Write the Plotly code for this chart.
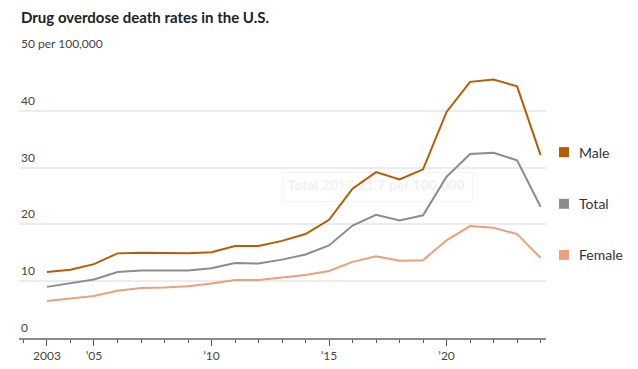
import plotly.graph_objects as go

years = list(range(2003, 2025))
male = [11.6, 12.0, 13.0, 14.9, 15.0, 15.0, 14.9, 15.1, 16.2, 16.2, 17.1, 18.3, 20.8, 26.3, 29.2, 27.9, 29.7, 39.8, 45.1, 45.5, 44.3, 32.2]
total = [9.0, 9.6, 10.3, 11.6, 11.9, 11.9, 11.9, 12.3, 13.2, 13.1, 13.8, 14.7, 16.3, 19.8, 21.7, 20.7, 21.6, 28.4, 32.4, 32.6, 31.3, 23.1]
female = [6.5, 7.0, 7.4, 8.3, 8.8, 8.9, 9.1, 9.6, 10.2, 10.2, 10.6, 11.1, 11.8, 13.4, 14.4, 13.6, 13.7, 17.2, 19.7, 19.4, 18.3, 14.1]

series_names = ["Male", "Total", "Female"]
series_vals = [male, total, female]
colors = ["#b55d00", "#8c8c8c", "#eba07b"]

tick_years = [2003, 2005, 2010, 2015, 2020]
tick_labels = ["2003", "\u201905", "\u201910", "\u201915", "\u201920"]
y_ticks = [0, 10, 20, 30, 40, 50]
y_labels = ["0", "10", "20", "30", "40", "50 per 100,000"]

FONT = "Lato, Roboto, sans-serif"

fig = go.Figure()

# faint tooltip remnant, drawn beneath the lines
tip_year = 2017
tip_val = total[years.index(tip_year)]
fig.add_trace(go.Scatter(x=[tip_year], y=[tip_val + 4.9], mode="text",
                         text=["<b>Total</b> 2017 <b>21.7 per 100,000</b>"],
                         textfont=dict(family=FONT, size=14, color="#efefef"),
                         hoverinfo="skip", showlegend=False))

for name, vals, c in zip(series_names, series_vals, colors):
    fig.add_trace(go.Scatter(x=years, y=vals, mode="lines", name=name,
                             line=dict(color=c, width=2), hoverinfo="skip"))

fig.add_shape(type="rect", xref="x", yref="y", layer="below",
              x0=tip_year - 3.95, x1=tip_year + 4.1, y0=tip_val + 2.3, y1=tip_val + 7.4,
              line=dict(color="#f3f3f3", width=1), fillcolor="rgba(255,255,255,0)")

annotations = []
annotations.append(dict(x=0, xref="paper", y=1, yref="paper", yshift=37,
                        text="<b>Drug overdose death rates in the U.S.</b>",
                        showarrow=False, xanchor="left", yanchor="middle",
                        font=dict(family=FONT, size=15, color="#222")))
for v, lab in zip(y_ticks, y_labels):
    annotations.append(dict(x=0, xref="paper", y=v, yref="y", text=lab,
                            showarrow=False, xanchor="left", yanchor="bottom",
                            yshift=1, font=dict(family=FONT, size=12, color="#444")))

# end-of-line legend: square swatch + label
for name, vals, c in zip(series_names, series_vals, colors):
    fig.add_shape(type="rect", xref="paper", yref="y",
                  xsizemode="pixel", xanchor=1, x0=13, x1=23,
                  ysizemode="pixel", yanchor=vals[-1], y0=-2, y1=8,
                  line=dict(width=0), fillcolor=c)
    annotations.append(dict(x=1, xref="paper", xshift=31, y=vals[-1], yref="y",
                            text=name, showarrow=False, xanchor="left",
                            yanchor="middle", yshift=3,
                            font=dict(family=FONT, size=14, color="#333")))

fig.update_layout(
    width=630, height=361,
    margin=dict(l=11, r=92, t=46, b=31, autoexpand=False),
    paper_bgcolor="white", plot_bgcolor="white",
    showlegend=False,
    annotations=annotations,
    font=dict(family=FONT),
)
fig.update_xaxes(range=[2001.81, 2024.23], tickvals=tick_years, ticktext=tick_labels,
                 automargin=False,
                 ticks="outside", ticklen=6, tickcolor="#555", tickwidth=1,
                 showgrid=False, zeroline=False,
                 showline=True, linecolor="#8a8a8a", linewidth=2,
                 minor=dict(dtick=1, tick0=2003, ticks="outside", ticklen=3, tickcolor="#555", showgrid=False),
                 tickfont=dict(family=FONT, size=12, color="#444"))
fig.update_yaxes(range=[0, 50], tickvals=y_ticks, showticklabels=False, automargin=False,
                 showgrid=True, gridcolor="#ececec", gridwidth=2,
                 zeroline=False, fixedrange=True)

fig.write_html("out.html")
